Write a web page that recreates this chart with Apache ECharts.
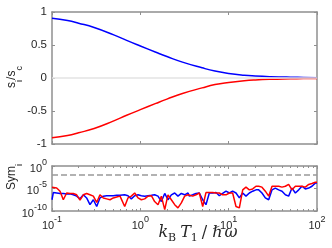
<!DOCTYPE html>
<html><head><meta charset="utf-8">
<script src="https://cdn.jsdelivr.net/npm/echarts@6/dist/echarts.min.js"></script>
<style>html,body{margin:0;padding:0;background:#fff}#c{width:332px;height:248px}</style>
</head><body><div id="c"></div>
<script>
// ---- top panel: s_i / s_c versus kB T1 / hbar omega ----
const tempT = [0.1,0.15,0.2,0.3,0.5,0.7,1,1.5,2,3,5,7,10,15,20,30,50,70,100];
const sBlue = [0.905,0.87,0.83,0.765,0.653,0.57,0.485,0.39,0.325,0.24,0.154,0.105,0.068,0.041,0.03,0.02,0.012,0.009,0.005];
const sRed  = [-0.905,-0.87,-0.83,-0.765,-0.65,-0.565,-0.48,-0.385,-0.32,-0.235,-0.15,-0.1,-0.068,-0.042,-0.03,-0.02,-0.013,-0.009,-0.006];

// ---- bottom panel: Sym_i (log10 values) ----
const symLogT = [
 -1.0,-0.985,-0.947,-0.909,-0.872,-0.834,-0.796,-0.759,-0.721,-0.683,-0.645,-0.608,-0.570,-0.532,-0.494,-0.457,-0.419,-0.381,-0.343,-0.306,-0.268,-0.230,
 -0.215,-0.177,-0.140,-0.102,-0.064,-0.026,0.011,0.049,0.087,0.125,0.162,0.200,0.238,0.276,0.313,0.351,0.389,0.426,0.464,0.502,0.540,
 0.555,0.593,0.630,0.668,0.706,0.743,0.781,0.819,0.857,0.894,0.932,0.970,1.008,1.045,1.083,1.121,1.159,1.196,1.234,1.272,1.309,
 1.340,1.377,1.415,1.453,1.491,1.528,1.566,1.604,1.642,1.679,1.717,1.755,1.793,1.830,1.868,1.906,1.943,1.981,2.0];
const symBlueLog = [
 -7.5,-5.9,-6.0,-6.1,-6.1,-6.2,-6.2,-6.4,-6.7,-7.3,-6.4,-7.1,-8.6,-7.5,-9.0,-7.1,-6.7,-6.6,-6.6,-6.6,-6.5,-6.5,
 -6.5,-6.4,-6.6,-7.3,-6.6,-6.4,-6.6,-6.7,-6.6,-6.5,-6.4,-6.7,-7.9,-6.1,-7.5,-6.4,-6.0,-6.7,-6.1,-6.4,-6.0,
 -6.7,-6.4,-6.1,-6.0,-7.5,-8.6,-6.0,-6.0,-5.9,-6.6,-6.1,-5.6,-6.0,-5.6,-6.0,-7.1,-6.0,-6.7,-6.0,-5.6,-5.3,
 -5.3,-6.0,-7.1,-7.5,-5.3,-4.9,-5.3,-5.6,-6.4,-6.7,-4.9,-6.0,-5.3,-4.5,-5.1,-4.9,-4.5,-3.8,-3.8];
const symRedLog = [
 -4.7,-4.7,-4.9,-5.6,-7.5,-6.0,-6.1,-6.1,-6.4,-7.6,-6.4,-6.1,-6.4,-6.7,-8.1,-6.4,-7.1,-7.3,-7.5,-7.1,-6.9,-6.7,
 -6.4,-9.0,-7.1,-6.7,-6.0,-7.1,-7.5,-7.3,-6.7,-6.6,-7.9,-8.6,-6.7,-9.7,-6.4,-7.5,-8.6,-9.3,-8.2,-6.7,-6.4,
 -6.4,-6.7,-6.4,-6.0,-9.0,-5.9,-5.9,-5.9,-6.0,-6.0,-6.4,-6.4,-6.0,-6.0,-9.0,-9.3,-5.3,-4.7,-5.3,-5.1,-4.5,
 -4.5,-4.7,-5.6,-6.7,-4.5,-4.5,-4.5,-4.7,-4.5,-4.1,-5.3,-4.5,-4.5,-4.5,-4.7,-4.1,-3.9,-3.6,-3.6];
const symThreshold = 1e-2;
const minorTicksT = [0.2,0.3,0.4,0.5,0.6,0.7,0.8,0.9,2,3,4,5,6,7,8,9,20,30,40,50,60,70,80,90];

const FONT = 'Liberation Sans, Arial, Helvetica, sans-serif';
const SERIF = 'DejaVu Serif, Liberation Serif, serif';
const TXT = '#262626';
const AX = '#8f8f8f';

const toPairs = (xs, ys) => xs.map((x, i) => [x, ys[i]]);
const toPairsLog = (lxs, lys) => lxs.map((lx, i) => [Math.pow(10, lx), Math.pow(10, lys[i])]);

const powRich = {
  b: {fontSize: 11, fontFamily: FONT, color: TXT, lineHeight: 16, verticalAlign: 'bottom'},
  s: {fontSize: 9, fontFamily: FONT, color: TXT, lineHeight: 10, verticalAlign: 'top'}
};
function powLabel(v) {
  const e = Math.round(Math.log10(v));
  return '{b|10}{s|' + e + '}';
}

function frameAxis(extra) {
  return Object.assign({
    axisLine: {show: true, onZero: false, lineStyle: {color: AX, width: 1.5}},
    axisTick: {show: true, inside: true, length: 3, lineStyle: {color: AX, width: 1}},
    axisLabel: {show: false},
    splitLine: {show: false}
  }, extra);
}

const mathI = {fontSize: 16, fontFamily: SERIF, fontStyle: 'italic', fill: TXT, color: TXT, lineHeight: 18, verticalAlign: 'bottom'};
const chart = echarts.init(document.getElementById('c'), null, {renderer: 'canvas'});
chart.setOption({
  animation: false,
  backgroundColor: '#fff',
  grid: [
    {left: 52, right: 15, top: 12, height: 132},
    {left: 52, right: 15, top: 166, height: 45}
  ],
  xAxis: [
    frameAxis({type: 'log', gridIndex: 0, min: 0.1, max: 100, interval: 1, position: 'bottom'}),
    frameAxis({type: 'log', gridIndex: 0, min: 0.1, max: 100, interval: 1, position: 'top'}),
    frameAxis({type: 'log', gridIndex: 1, min: 0.1, max: 100, interval: 1, position: 'bottom',
      axisLabel: {show: true, formatter: powLabel, rich: powRich, margin: 4}}),
    frameAxis({type: 'log', gridIndex: 1, min: 0.1, max: 100, interval: 1, position: 'top'}),
    frameAxis({type: 'log', gridIndex: 1, min: 0.1, max: 100, position: 'bottom', axisLine: {show: false, onZero: false},
      axisTick: {show: true, inside: true, length: 2, customValues: minorTicksT, lineStyle: {color: AX, width: 1}}}),
    frameAxis({type: 'log', gridIndex: 1, min: 0.1, max: 100, position: 'top', axisLine: {show: false, onZero: false},
      axisTick: {show: true, inside: true, length: 2, customValues: minorTicksT, lineStyle: {color: AX, width: 1}}})
  ],
  yAxis: [
    frameAxis({type: 'value', gridIndex: 0, min: -1, max: 1, interval: 0.5, position: 'left',
      axisLabel: {show: true, fontSize: 11.5, fontFamily: FONT, color: TXT, margin: 5}}),
    frameAxis({type: 'value', gridIndex: 0, min: -1, max: 1, interval: 0.5, position: 'right'}),
    frameAxis({type: 'log', gridIndex: 1, min: 1e-10, max: 1, interval: 5, position: 'left',
      axisLabel: {show: true, formatter: powLabel, rich: powRich, margin: 5}}),
    frameAxis({type: 'log', gridIndex: 1, min: 1e-10, max: 1, interval: 5, position: 'right'})
  ],
  series: [
    {type: 'line', xAxisIndex: 0, yAxisIndex: 0, data: [], z: 1, silent: true,
      markLine: {symbol: 'none', silent: true, label: {show: false},
        lineStyle: {color: '#e3e3e3', width: 1.5, type: 'solid'}, data: [{yAxis: 0}]}},
    {type: 'line', xAxisIndex: 0, yAxisIndex: 0, z: 3, smooth: true, showSymbol: false,
      lineStyle: {color: '#0000ff', width: 1.5}, data: toPairs(tempT, sBlue)},
    {type: 'line', xAxisIndex: 0, yAxisIndex: 0, z: 3, smooth: true, showSymbol: false,
      lineStyle: {color: '#ff0000', width: 1.5}, data: toPairs(tempT, sRed)},
    {type: 'line', xAxisIndex: 2, yAxisIndex: 2, data: [], z: 1, silent: true,
      markLine: {symbol: 'none', silent: true, label: {show: false},
        lineStyle: {color: '#999999', width: 1.5, type: [6, 3]}, data: [{yAxis: symThreshold}]}},
    {type: 'line', xAxisIndex: 2, yAxisIndex: 2, z: 3, showSymbol: false,
      lineStyle: {color: '#0000ff', width: 1.5}, data: toPairsLog(symLogT, symBlueLog)},
    {type: 'line', xAxisIndex: 2, yAxisIndex: 2, z: 4, showSymbol: false,
      lineStyle: {color: '#ff0000', width: 1.5}, data: toPairsLog(symLogT, symRedLog)}
  ],
  graphic: [
    {type: 'text', x: 15, y: 77, rotation: Math.PI / 2,
      style: {text: '{a|s}{s|i}{a|/s}{s|c}', align: 'center', verticalAlign: 'middle',
        rich: {a: {fontSize: 12, fontFamily: FONT, fill: TXT, color: TXT, lineHeight: 14, verticalAlign: 'top'},
               s: {fontSize: 9, fontFamily: FONT, fill: TXT, color: TXT, lineHeight: 18, verticalAlign: 'bottom'}}}},
    {type: 'text', x: 15, y: 177, rotation: Math.PI / 2,
      style: {text: '{a|Sym}{s|i}', align: 'center', verticalAlign: 'middle',
        rich: {a: {fontSize: 12, fontFamily: FONT, fill: TXT, color: TXT, lineHeight: 14, verticalAlign: 'top'},
               s: {fontSize: 9, fontFamily: FONT, fill: TXT, color: TXT, lineHeight: 18, verticalAlign: 'bottom'}}}},
    {type: 'text', x: 198, y: 235,
      style: {text: '{i|k}{r|B}{t|T}{r|1}{n|/}{h|\u210F}{i|\u03C9}', align: 'center', verticalAlign: 'middle',
        rich: {i: Object.assign({}, mathI, {padding: [0, 0, 3, 0]}),
               t: Object.assign({}, mathI, {padding: [0, 0, 3, 3]}),
               h: Object.assign({}, mathI, {padding: [0, 2, 3, 2]}),
               n: {fontSize: 16, fontFamily: SERIF, fill: TXT, color: TXT, lineHeight: 18, verticalAlign: 'bottom', padding: [0, 3, 3, 3]},
               r: {fontSize: 11, fontFamily: SERIF, fill: TXT, color: TXT, lineHeight: 18, verticalAlign: 'bottom', padding: [0, 1, 0, 0]}}}}
  ]
});
</script></body></html>
